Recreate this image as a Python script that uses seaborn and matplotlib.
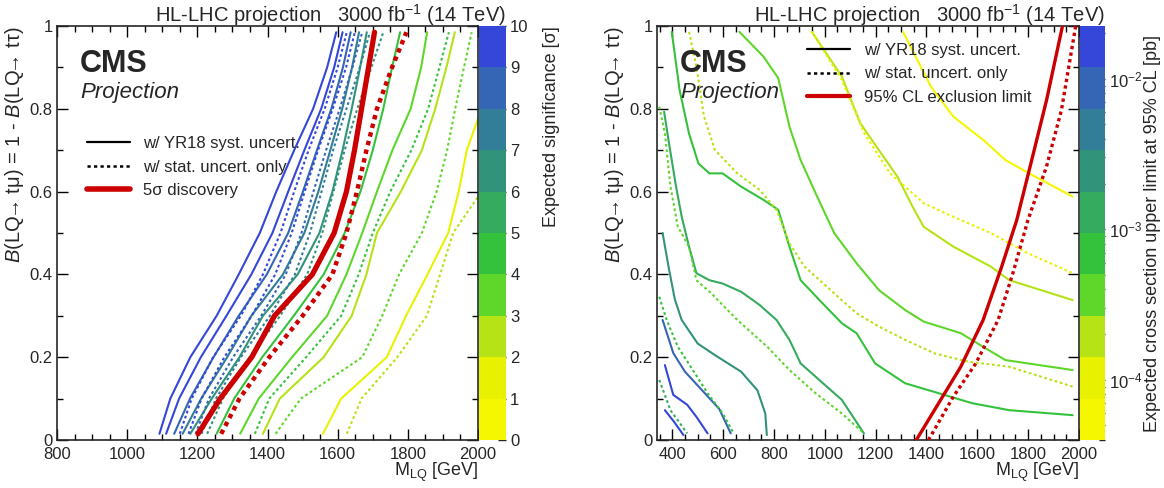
import matplotlib
matplotlib.use("Agg")
import matplotlib.pyplot as plt
import seaborn as sns
from matplotlib.colors import ListedColormap, Normalize, LogNorm
from matplotlib.cm import ScalarMappable
from matplotlib.lines import Line2D
from matplotlib.ticker import MultipleLocator, FuncFormatter

# ---- left panel: expected discovery significance contours ----
# x positions (M_LQ in GeV) of each contour at the branching-fraction values below
sig_branching = [0.015, 0.1, 0.2, 0.3, 0.4, 0.5, 0.6, 0.7, 0.8, 0.9, 0.985]

sig_syst = {
    10: [1092, 1123, 1180, 1255, 1318, 1378, 1425, 1476, 1530, 1570, 1596],
    9: [1111, 1148, 1210, 1283, 1354, 1414, 1459, 1505, 1553, 1590, 1614],
    8: [1134, 1179, 1246, 1318, 1398, 1459, 1501, 1541, 1582, 1615, 1637],
    7: [1158, 1211, 1285, 1354, 1444, 1505, 1545, 1579, 1613, 1641, 1661],
    6: [1180, 1241, 1320, 1387, 1486, 1548, 1585, 1614, 1640, 1664, 1683],
    5: [1202, 1265, 1355, 1420, 1528, 1590, 1625, 1648, 1668, 1688, 1705],
    4: [1255, 1305, 1385, 1475, 1560, 1620, 1665, 1700, 1730, 1755, 1778],
    3: [1322, 1375, 1470, 1570, 1625, 1670, 1712, 1756, 1808, 1838, 1855],
    2: [1387, 1435, 1560, 1640, 1682, 1712, 1780, 1840, 1878, 1910, 1934],
    1: [1558, 1610, 1740, 1795, 1856, 1915, 1945, 1968, 2010, 2050, 2080],
}
sig_stat = {
    10: [1150, 1184, 1245, 1324, 1387, 1437, 1476, 1517, 1563, 1600, 1626],
    9: [1175, 1212, 1277, 1355, 1422, 1469, 1506, 1544, 1586, 1624, 1649],
    8: [1195, 1233, 1302, 1382, 1452, 1497, 1531, 1567, 1606, 1642, 1670],
    7: [1212, 1253, 1324, 1407, 1478, 1521, 1554, 1587, 1625, 1663, 1692],
    6: [1228, 1273, 1349, 1436, 1513, 1556, 1588, 1620, 1656, 1696, 1730],
    5: [1268, 1320, 1405, 1500, 1585, 1625, 1655, 1682, 1712, 1755, 1796],
    4: [1364, 1405, 1510, 1610, 1660, 1700, 1750, 1810, 1858, 1890, 1917],
    3: [1423, 1495, 1670, 1727, 1775, 1840, 1882, 1912, 1935, 1960, 1982],
    2: [1626, 1668, 1770, 1854, 1892, 1929, 2010, 2050, 2090, 2130, 2160],
}

# ---- right panel: expected 95% CL cross section upper limit contours [pb] ----
xs_syst = [
    (2.0e-2, [371, 407, 444], [0.072, 0.044, 0.012]),
    (1.5e-2, [371, 404, 459, 495, 539], [0.181, 0.109, 0.085, 0.056, 0.016]),
    (8.0e-3, [362, 404, 450, 510, 585, 630], [0.29, 0.21, 0.165, 0.125, 0.075, 0.016]),
    (2.5e-3, [362, 385, 410, 437, 500, 568, 671, 735, 766, 772],
     [0.5, 0.42, 0.34, 0.29, 0.233, 0.205, 0.165, 0.12, 0.064, 0.012]),
    (1.3e-3, [368, 385, 415, 437, 466, 495, 546, 598, 671, 744, 810, 861, 905, 993, 1067, 1154],
     [0.793, 0.725, 0.612, 0.54, 0.467, 0.403, 0.386, 0.378, 0.358, 0.326, 0.29, 0.242, 0.185, 0.137, 0.097, 0.016]),
    (7.0e-4, [398, 429, 466, 503, 546, 598, 671, 759, 817, 861, 905, 979, 1067, 1125, 1198, 1316, 1448, 1579, 1726, 1975],
     [0.986, 0.845, 0.74, 0.668, 0.644, 0.644, 0.612, 0.58, 0.556, 0.467, 0.386, 0.338, 0.282, 0.258, 0.185, 0.137, 0.113, 0.089, 0.072, 0.06]),
    (4.0e-4, [664, 759, 817, 861, 905, 964, 1037, 1125, 1213, 1316, 1389, 1535, 1623, 1711, 1799, 1975],
     [0.986, 0.926, 0.874, 0.757, 0.676, 0.596, 0.5, 0.427, 0.362, 0.314, 0.286, 0.258, 0.225, 0.193, 0.185, 0.169]),
    (1.8e-4, [949, 1067, 1140, 1213, 1286, 1345, 1389, 1506, 1653, 1726, 1975],
     [0.986, 0.878, 0.765, 0.7, 0.636, 0.564, 0.515, 0.467, 0.419, 0.386, 0.338]),
    (5.0e-5, [1308, 1418, 1506, 1623, 1711, 1828, 1975], [0.986, 0.853, 0.781, 0.725, 0.676, 0.636, 0.588]),
]
xs_stat = [
    (1.3e-3, [349, 393, 459], [0.145, 0.072, 0.016]),
    (7.5e-4, [349, 378, 422, 481, 539, 598, 642], [0.346, 0.29, 0.225, 0.169, 0.113, 0.064, 0.016]),
    (3.5e-4, [349, 371, 393, 422, 466, 495, 554, 656, 774, 861, 964, 1067, 1154],
     [0.805, 0.741, 0.612, 0.515, 0.467, 0.386, 0.354, 0.29, 0.225, 0.169, 0.113, 0.064, 0.016]),
    (1.6e-4, [466, 495, 525, 568, 656, 744, 810, 861, 920, 1023, 1125, 1213, 1316, 1433, 1565, 1726, 1975],
     [0.986, 0.902, 0.781, 0.7, 0.644, 0.604, 0.556, 0.475, 0.419, 0.362, 0.306, 0.274, 0.242, 0.209, 0.189, 0.177, 0.129]),
    (9.0e-5, [949, 1067, 1155, 1257, 1389, 1506, 1653, 1799, 1975], [0.986, 0.87, 0.741, 0.644, 0.572, 0.539, 0.5, 0.451, 0.403]),
]
excl_syst_mass = [1360, 1448, 1535, 1623, 1696, 1755, 1814, 1872, 1935]
excl_syst_br = [0.0, 0.089, 0.177, 0.29, 0.419, 0.531, 0.676, 0.82, 1.0]
excl_stat_mass = [1408, 1506, 1594, 1682, 1740, 1799, 1872, 1931, 1987]
excl_stat_br = [0.0, 0.105, 0.185, 0.29, 0.403, 0.531, 0.66, 0.797, 1.0]

band_colors = ['#f5f700', '#e8f200', '#b5e316', '#5ed62a', '#34c23c',
               '#34ab5e', '#31937a', '#327e98', '#3566b6', '#3447d8']

sns.set_style("ticks")
plt.rcParams['font.family'] = ['Liberation Sans', 'DejaVu Sans']
plt.rcParams['mathtext.fontset'] = 'custom'
plt.rcParams['mathtext.rm'] = 'Liberation Sans'
plt.rcParams['mathtext.it'] = 'Liberation Sans:italic'
plt.rcParams['mathtext.bf'] = 'Liberation Sans:bold'

cmap = ListedColormap(band_colors)
sig_norm = Normalize(0, 10)
xs_norm = LogNorm(3.98e-5, 2.24e-2)

RED = '#cc0000'
DOT = (0, (1.3, 1.3))

W, H = 1164, 488
fig = plt.figure(figsize=(W / 100, H / 100), dpi=100)
ax1 = fig.add_axes([57 / W, 48 / H, 421 / W, 414 / H])
cax1 = fig.add_axes([479 / W, 48 / H, 27 / W, 414 / H])
ax2 = fig.add_axes([657 / W, 48 / H, 422 / W, 414 / H])
cax2 = fig.add_axes([1080 / W, 48 / H, 25 / W, 414 / H])

# left panel contours
for level, masses in sig_syst.items():
    if level == 5:
        sns.lineplot(x=masses, y=sig_branching, sort=False, estimator=None,
                     color=RED, lw=3.8, ax=ax1, zorder=4)
    else:
        sns.lineplot(x=masses, y=sig_branching, sort=False, estimator=None,
                     color=cmap(sig_norm(level)), lw=1.5, ax=ax1)
for level, masses in sig_stat.items():
    if level == 5:
        sns.lineplot(x=masses, y=sig_branching, sort=False, estimator=None,
                     color=RED, lw=3.2, ls=(0, (1, 1)), ax=ax1, zorder=4)
    else:
        sns.lineplot(x=masses, y=sig_branching, sort=False, estimator=None,
                     color=cmap(sig_norm(level)), lw=1.5, ls=DOT, ax=ax1)

# right panel contours
for val, mx, br in xs_syst:
    sns.lineplot(x=mx, y=br, sort=False, estimator=None,
                 color=cmap(xs_norm(val)), lw=1.5, ax=ax2)
for val, mx, br in xs_stat:
    sns.lineplot(x=mx, y=br, sort=False, estimator=None,
                 color=cmap(xs_norm(val)), lw=1.5, ls=DOT, ax=ax2)
sns.lineplot(x=excl_syst_mass, y=excl_syst_br, sort=False, estimator=None,
             color=RED, lw=2.4, ax=ax2, zorder=4)
sns.lineplot(x=excl_stat_mass, y=excl_stat_br, sort=False, estimator=None,
             color=RED, lw=2.4, ls=(0, (1, 1)), ax=ax2, zorder=4)

ylab = r"$B$(LQ$\!$→ tμ) = 1 - $B$(LQ$\!$→ tτ)"
for ax, xmin in [(ax1, 800), (ax2, 340)]:
    ax.set_xlim(xmin, 2000)
    ax.set_ylim(0, 1)
    ax.xaxis.set_major_locator(MultipleLocator(200))
    ax.xaxis.set_minor_locator(MultipleLocator(50))
    ax.yaxis.set_major_locator(MultipleLocator(0.2))
    ax.yaxis.set_minor_locator(MultipleLocator(0.1))
    ax.yaxis.set_major_formatter(FuncFormatter(lambda v, _: f"{v:g}"))
    ax.tick_params(which='both', direction='in', top=True, right=True,
                   labelsize=12, width=1.0, color='black')
    ax.tick_params(which='major', length=8)
    ax.tick_params(which='minor', length=4)
    ax.tick_params(axis='x', which='major', pad=5)
    ax.tick_params(axis='y', which='major', pad=3)
    for sp in ax.spines.values():
        sp.set_linewidth(1.2)
    ax.set_xlabel(r"M$_{\rm LQ}$ [GeV]", loc='right', fontsize=13, labelpad=-1)
    ax.set_ylabel(ylab, loc='top', fontsize=14.5, labelpad=3)
    ax.text(0.055, 0.945, "CMS", transform=ax.transAxes, fontsize=22,
            fontweight='bold', va='top', ha='left')
    ax.text(0.055, 0.865, "Projection", transform=ax.transAxes, fontsize=16,
            style='italic', va='top', ha='left')

title = r"HL-LHC projection   3000 fb$^{-1}$ (14 TeV)"
fig.text(506 / W, 1 - 2 / H, title, ha='right', va='top', fontsize=14.5)
fig.text(1105 / W, 1 - 2 / H, title, ha='right', va='top', fontsize=14.5)

# legends
h_syst = Line2D([], [], color='black', lw=1.6)
h_stat = Line2D([], [], color='black', lw=1.8, ls=DOT)
ax1.legend([h_syst, h_stat, Line2D([], [], color=RED, lw=4)],
           ["w/ YR18 syst. uncert.", "w/ stat. uncert. only", "5σ discovery"],
           loc='upper left', bbox_to_anchor=(0.035, 0.77), frameon=False,
           fontsize=12, handlelength=2.6, handletextpad=0.8, labelspacing=0.5)
ax2.legend([h_syst, h_stat, Line2D([], [], color=RED, lw=3)],
           ["w/ YR18 syst. uncert.", "w/ stat. uncert. only", "95% CL exclusion limit"],
           loc='upper left', bbox_to_anchor=(0.32, 0.995), frameon=False,
           fontsize=12, handlelength=2.6, handletextpad=0.8, labelspacing=0.5)

# colour bars
cb1 = fig.colorbar(ScalarMappable(norm=sig_norm, cmap=cmap), cax=cax1)
cb1.set_ticks(range(11))
cb1.outline.set_visible(False)
cb1.ax.tick_params(direction='in', length=6, width=1.0, labelsize=12, pad=3)
cb1.set_label("Expected significance [σ]", loc='top', fontsize=13, labelpad=10)

cb2 = fig.colorbar(ScalarMappable(norm=xs_norm, cmap=cmap), cax=cax2)
cb2.set_ticks([1e-4, 1e-3, 1e-2])
cb2.minorticks_on()
cb2.outline.set_visible(False)
cb2.ax.tick_params(which='major', direction='in', length=8, width=1.0, labelsize=12, pad=3)
cb2.ax.tick_params(which='minor', direction='in', length=4, width=1.0)
cb2.set_label("Expected cross section upper limit at 95% CL [pb]", fontsize=13, labelpad=1)

fig.savefig("out.png", dpi=100)
